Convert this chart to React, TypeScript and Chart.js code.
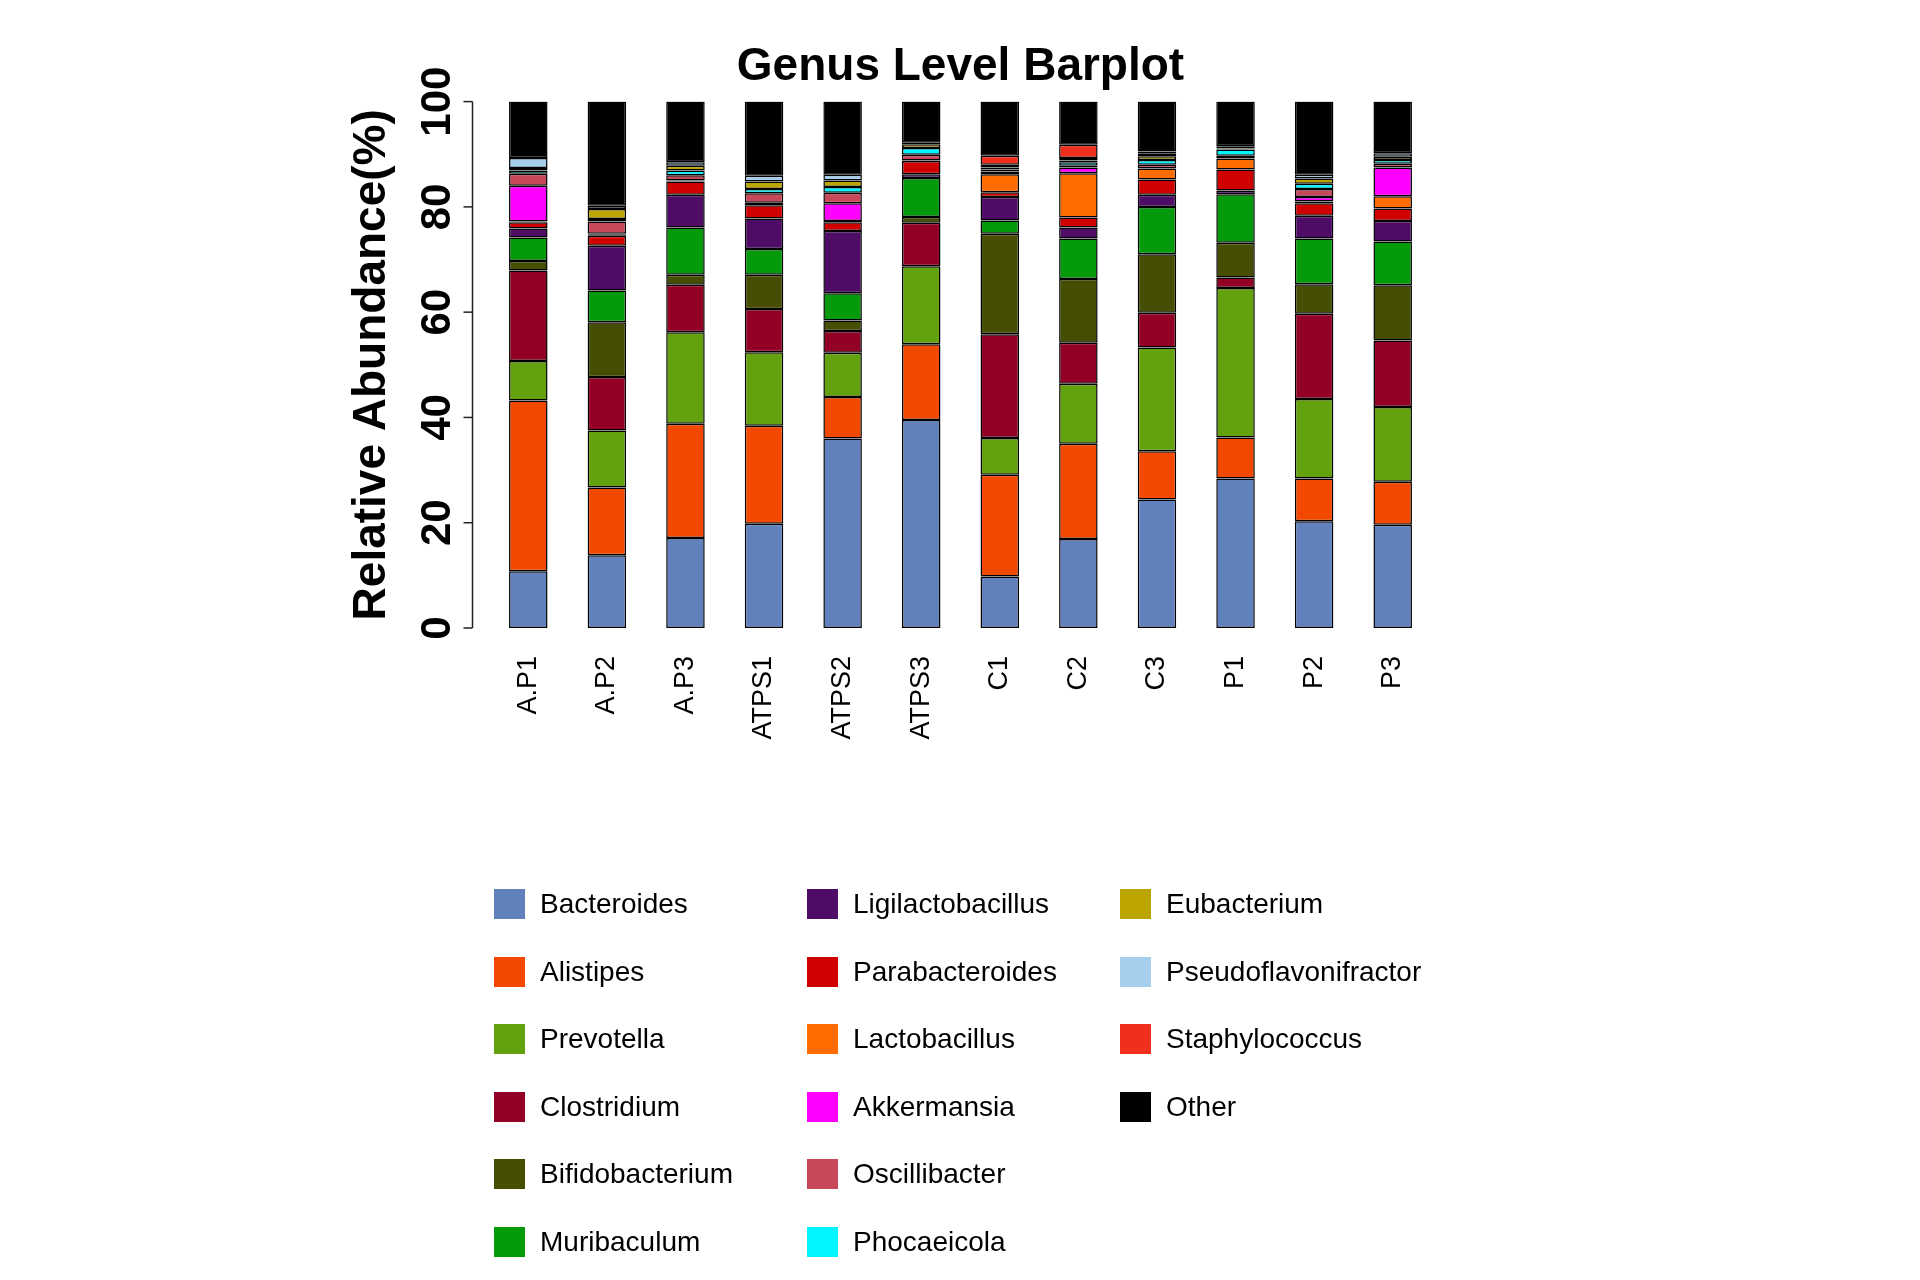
import React, { useEffect, useRef } from 'react';
import { Chart, registerables } from 'chart.js';
Chart.register(...registerables);

const FONT = '"Liberation Sans", Arial, Helvetica, sans-serif';

const samples = ['A.P1', 'A.P2', 'A.P3', 'ATPS1', 'ATPS2', 'ATPS3', 'C1', 'C2', 'C3', 'P1', 'P2', 'P3'];

const bacteroides = [10.8, 13.8, 17.1, 19.8, 36.0, 39.5, 9.8, 16.9, 24.4, 28.4, 20.3, 19.6];
const alistipes = [32.4, 12.9, 21.7, 18.6, 7.9, 14.4, 19.3, 18.1, 9.2, 7.8, 8.1, 8.2];
const prevotella = [7.5, 10.8, 17.4, 14.0, 8.4, 14.8, 7.0, 11.4, 19.7, 28.4, 15.1, 14.2];
const clostridium = [17.2, 10.2, 9.0, 8.2, 4.1, 8.3, 19.7, 7.8, 6.6, 2.0, 16.2, 12.6];
const bifidobacterium = [1.8, 10.4, 1.9, 6.5, 2.0, 1.1, 19.1, 12.1, 11.1, 6.6, 5.6, 10.5];
const muribaculum = [4.5, 6.0, 9.0, 4.9, 5.2, 7.4, 2.5, 7.7, 9.0, 9.2, 8.7, 8.3];
const ligilactobacillus = [1.7, 8.5, 6.2, 5.8, 11.8, 0.7, 4.5, 2.1, 2.3, 0.7, 4.3, 3.9];
const parabacteroides = [1.2, 1.9, 2.5, 2.5, 1.7, 2.5, 0.9, 1.9, 2.9, 4.0, 2.4, 2.4];
const lactobacillus = [0.1, 0.2, 0.2, 0.5, 0.2, 0.1, 3.4, 8.4, 2.1, 2.1, 0.3, 2.3];
const akkermansia = [6.8, 0.2, 0, 0, 3.4, 0, 0, 1.1, 0, 0, 0.9, 5.5];
const oscillibacter = [2.3, 2.3, 1.0, 1.8, 2.0, 1.1, 0.5, 0.3, 0.7, 0.5, 1.5, 0.7];
const phocaeicola = [0.6, 0.5, 0.9, 0.8, 1.1, 1.3, 0.4, 0.7, 0.9, 1.2, 1.0, 0.7];
const eubacterium = [0.5, 1.9, 0.9, 1.4, 1.2, 0.7, 0.4, 0.3, 0.7, 0.2, 1.0, 0.6];
const pseudoflavonifractor = [1.9, 0.6, 0.7, 1.1, 1.1, 0.3, 0.5, 0.5, 0.5, 0.4, 0.7, 0.7];
const staphylococcus = [0, 0, 0, 0, 0, 0, 1.7, 2.5, 0.4, 0, 0, 0];
const other = [10.7, 19.8, 11.5, 14.1, 13.9, 7.8, 10.3, 8.2, 9.5, 8.5, 13.9, 9.8];

const genera = [
  'Bacteroides', 'Alistipes', 'Prevotella', 'Clostridium', 'Bifidobacterium', 'Muribaculum',
  'Ligilactobacillus', 'Parabacteroides', 'Lactobacillus', 'Akkermansia', 'Oscillibacter', 'Phocaeicola',
  'Eubacterium', 'Pseudoflavonifractor', 'Staphylococcus', 'Other',
];
const series = [
  bacteroides, alistipes, prevotella, clostridium, bifidobacterium, muribaculum,
  ligilactobacillus, parabacteroides, lactobacillus, akkermansia, oscillibacter, phocaeicola,
  eubacterium, pseudoflavonifractor, staphylococcus, other,
];
const colors = [
  '#6181BD', '#F34800', '#64A10E', '#930026', '#464E04', '#049A0B',
  '#4E0C66', '#D00000', '#FF6C00', '#FF00FF', '#C7475B', '#00F5FF',
  '#BDA500', '#A5CFED', '#F0301C', '#000000',
];
const yTicks = [0, 20, 40, 60, 80, 100];

const chartTitle = 'Genus Level Barplot';
const yTitle = 'Relative Abundance(%)';

const yAxisPlugin = {
  id: 'rYAxis',
  afterDraw(chart: any) {
    const ctx = chart.ctx;
    const y = chart.scales.y;
    const ax = chart.chartArea.left - 16.5;
    ctx.save();
    ctx.strokeStyle = '#222';
    ctx.lineWidth = 1.5;
    ctx.beginPath();
    ctx.moveTo(ax, y.getPixelForValue(yTicks[0]));
    ctx.lineTo(ax, y.getPixelForValue(yTicks[yTicks.length - 1]));
    ctx.stroke();
    ctx.fillStyle = '#000';
    ctx.font = `bold 42px ${FONT}`;
    ctx.textAlign = 'center';
    ctx.textBaseline = 'middle';
    for (const v of yTicks) {
      const py = y.getPixelForValue(v);
      ctx.beginPath();
      ctx.moveTo(ax - 9, py);
      ctx.lineTo(ax, py);
      ctx.stroke();
      ctx.save();
      ctx.translate(ax - 34.5, py);
      ctx.rotate(-Math.PI / 2);
      ctx.fillText(String(v), 0, 0);
      ctx.restore();
    }
    ctx.font = `bold 46px ${FONT}`;
    ctx.textBaseline = 'alphabetic';
    const cy = (chart.chartArea.top + chart.chartArea.bottom) / 2;
    ctx.translate(ax - 87.5, cy);
    ctx.rotate(-Math.PI / 2);
    ctx.fillText(yTitle, 0, 0);
    ctx.restore();
  },
};

export default function App() {
  const ref = useRef<HTMLCanvasElement | null>(null);

  useEffect(() => {
    document.body.style.margin = '0';
    const canvas = ref.current;
    if (!canvas) return;
    const chart = new Chart(canvas, {
      type: 'bar',
      data: {
        labels: samples,
        datasets: series.map((d, i) => ({
          label: genera[i],
          data: d,
          backgroundColor: colors[i],
          borderColor: '#000000',
          borderWidth: 1.5,
          borderSkipped: false,
          barPercentage: 0.49,
          categoryPercentage: 1,
        })),
      },
      options: {
        animation: false,
        responsive: false,
        devicePixelRatio: 1,
        layout: { padding: { left: 489, right: 488, top: 0, bottom: 0 } },
        plugins: {
          legend: { display: false },
          tooltip: { enabled: false },
          title: {
            display: true,
            text: chartTitle,
            color: '#000',
            font: { family: FONT, size: 46, weight: 'bold', lineHeight: 1.2 },
            padding: { top: 39.4, bottom: 7 },
          },
        },
        scales: {
          x: {
            stacked: true,
            offset: true,
            grid: { display: false, drawTicks: false },
            border: { display: false },
            ticks: {
              color: '#000',
              font: { family: FONT, size: 27 },
              minRotation: 90,
              maxRotation: 90,
              autoSkip: false,
              padding: 28,
            },
            afterFit: (scale: any) => {
              scale.height = 652;
            },
          },
          y: {
            stacked: true,
            min: 0,
            max: 100,
            display: false,
          },
        },
      },
      plugins: [yAxisPlugin],
    } as any);
    return () => chart.destroy();
  }, []);

  const rows = 6;
  return (
    <div style={{ position: 'relative', width: 1920, height: 1280, background: '#fff', overflow: 'hidden' }}>
      <canvas ref={ref} width={1920} height={1280} style={{ position: 'absolute', left: 0, top: 0, width: 1920, height: 1280 }} />
      <div
        style={{
          position: 'absolute',
          left: 494,
          top: 889,
          display: 'grid',
          gridAutoFlow: 'column',
          gridTemplateRows: `repeat(${rows}, 67.5px)`,
          gridTemplateColumns: 'repeat(3, 313px)',
          fontFamily: FONT,
          fontSize: 28,
          color: '#000',
        }}
      >
        {genera.map((g, i) => (
          <div key={g} style={{ display: 'flex', alignItems: 'center', height: 30 }}>
            <div style={{ width: 31, height: 30, background: colors[i], flex: 'none' }} />
            <span style={{ marginLeft: 15, lineHeight: '30px', whiteSpace: 'nowrap' }}>{g}</span>
          </div>
        ))}
      </div>
    </div>
  );
}
